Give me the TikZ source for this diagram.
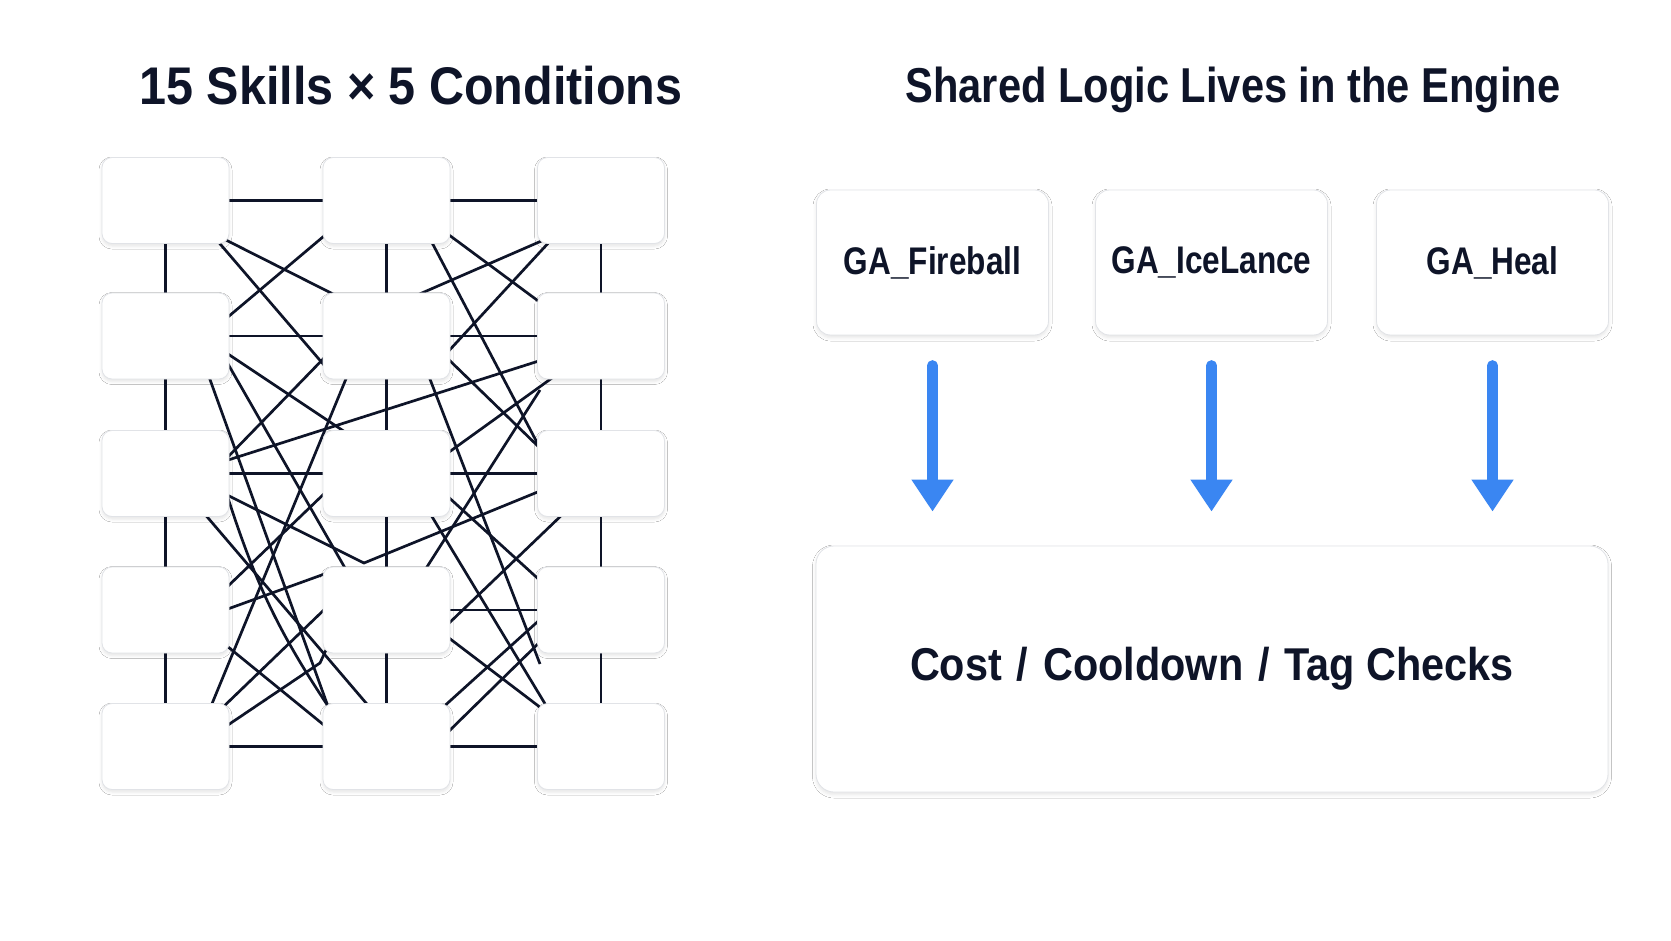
\documentclass[tikz,border=0pt]{standalone}
\usepackage{fontspec}
\usepackage{graphicx}
\setmainfont{Liberation Sans}
\usetikzlibrary{arrows.meta,shadows.blur}
\definecolor{ink}{HTML}{0E1428}
\definecolor{edge}{HTML}{E1E3E7}
\definecolor{arrowblue}{HTML}{3A86F2}
\newcommand{\narrowed}[2]{\scalebox{#1}[1]{#2}}
\newcommand{\wideslash}{\hspace{0.36em}/\hspace{0.36em}}
\tikzset{
  cell/.style={draw=edge, line width=0.8pt, fill=white, rounded corners=10pt,
    minimum width=127pt, minimum height=86pt, inner sep=0pt,
    blur shadow={shadow xshift=0pt, shadow yshift=-2.5pt, shadow blur radius=3pt, shadow opacity=10}},
  card/.style={draw=edge, line width=0.8pt, fill=white, rounded corners=14pt,
    minimum width=232pt, minimum height=145pt, inner sep=0pt, text=ink,
    font=\bfseries\fontsize{38.5}{44}\selectfont,
    blur shadow={shadow xshift=0pt, shadow yshift=-2.5pt, shadow blur radius=3.5pt, shadow opacity=10}},
  enginebox/.style={draw=edge, line width=0.8pt, fill=white, rounded corners=18pt,
    minimum width=792pt, minimum height=246pt, inner sep=0pt, text=ink,
    font=\bfseries\fontsize{46}{52}\selectfont,
    blur shadow={shadow xshift=0pt, shadow yshift=-2.5pt, shadow blur radius=3.5pt, shadow opacity=10}},
  wire/.style={draw=ink, line width=2.7pt},
  flow/.style={draw=arrowblue, line width=10.5pt, line cap=round,
    -{Triangle[width=40pt 0, length=32pt 0]}},
  heading/.style={text=ink, inner sep=0pt}
}
\begin{document}
\begin{tikzpicture}[x=1pt,y=-1pt]
\useasboundingbox (0,0) rectangle (1671,941);
\fill[white] (0,0) rectangle (1671,941);

% titles
\node[heading, font=\bfseries\fontsize{53}{60}\selectfont] (t1) at (411,86) {\narrowed{0.915}{15 Skills × 5 Conditions}};
\node[heading, font=\bfseries\fontsize{49}{56}\selectfont] (t2) at (1233,90) {\narrowed{0.85}{Shared Logic Lives in the Engine}};

% grid coordinates
\foreach \c/\x in {1/165.5,2/386.5,3/601}{
  \foreach \r/\y in {1/200.5,2/336,3/473.5,4/610,5/746.5}{
    \coordinate (p\r\c) at (\x,\y);
  }
}

% regular grid wires
\draw[wire] (p11) -- (p51);
\draw[wire] (p12) -- (p52);
\draw[wire] (p13) -- (p53);
\draw[wire] (p11) -- (p13);
\draw[wire] (p21) -- (p23);
\draw[wire] (p31) -- (p33);
\draw[wire] (p42) -- (p43);
\draw[wire] (p51) -- (p53);

% tangled wires
\draw[wire] (210,232) -- (335,295);
\draw[wire] (215,238) -- (330,372);
\draw[wire] (330,231) -- (222,322);
\draw[wire] (428,235) -- (542,452);
\draw[wire] (445,232) -- (545,306);
\draw[wire] (546,239) -- (415,296);
\draw[wire] (552,239) -- (445,355);
\draw[wire] (222,350) -- (345,432);
\draw[wire] (224,357) -- (345,568);
\draw[wire] (208,374) -- (330,712);
\draw[wire] (328,354) -- (224,461);
\draw[wire] (348,374) -- (209,711);
\draw[wire] (225,461) -- (545,359);
\draw[wire] (445,356) -- (545,453);
\draw[wire] (428,374) -- (540,664);
\draw[wire] (552,378) -- (445,455);
\draw[wire] (225,494) -- (364,563) -- (545,489);
\draw[wire] (225,610) -- (330,572);
\draw[wire] (225,589) -- (328,490);
\draw[wire] (203,512) -- (372,710);
\draw[wire] (228,498) to[bend right=8] (332,712);
\draw[wire] (222,642) -- (330,730);
\draw[wire] (220,710) -- (328,606);
\draw[wire] (225,727) -- (320,663) -- (326,650);
\draw[wire] (445,494) -- (545,585);
\draw[wire] (425,570) -- (540,390);
\draw[wire] (565,512) -- (445,627);
\draw[wire] (445,635) -- (545,711);
\draw[wire] (440,710) -- (545,615);
\draw[wire] (445,735) -- (545,637);
\draw[wire] (428,510) -- (550,712);

% cells
\foreach \r in {1,...,5}{
  \foreach \c in {1,2,3}{
    \node[cell] (b\r\c) at (p\r\c) {};
  }
}

% right side
\node[card] (ga1) at (932.5,262.5) {\narrowed{0.82}{GA\_Fireball}};
\node[card] (ga2) at (1211.5,262.5) {\narrowed{0.82}{GA\_IceLance}};
\node[card] (ga3) at (1492.5,262.5) {\narrowed{0.82}{GA\_Heal}};
\node[enginebox] (eng) at (1212,669) {\narrowed{0.9}{Cost\wideslash Cooldown\wideslash Tag Checks}};

\foreach \g in {ga1,ga2,ga3}{
  \draw[flow, shorten <=30pt, shorten >=34pt] (\g.south) -- (\g.south |- eng.north);
}
\end{tikzpicture}
\end{document}
